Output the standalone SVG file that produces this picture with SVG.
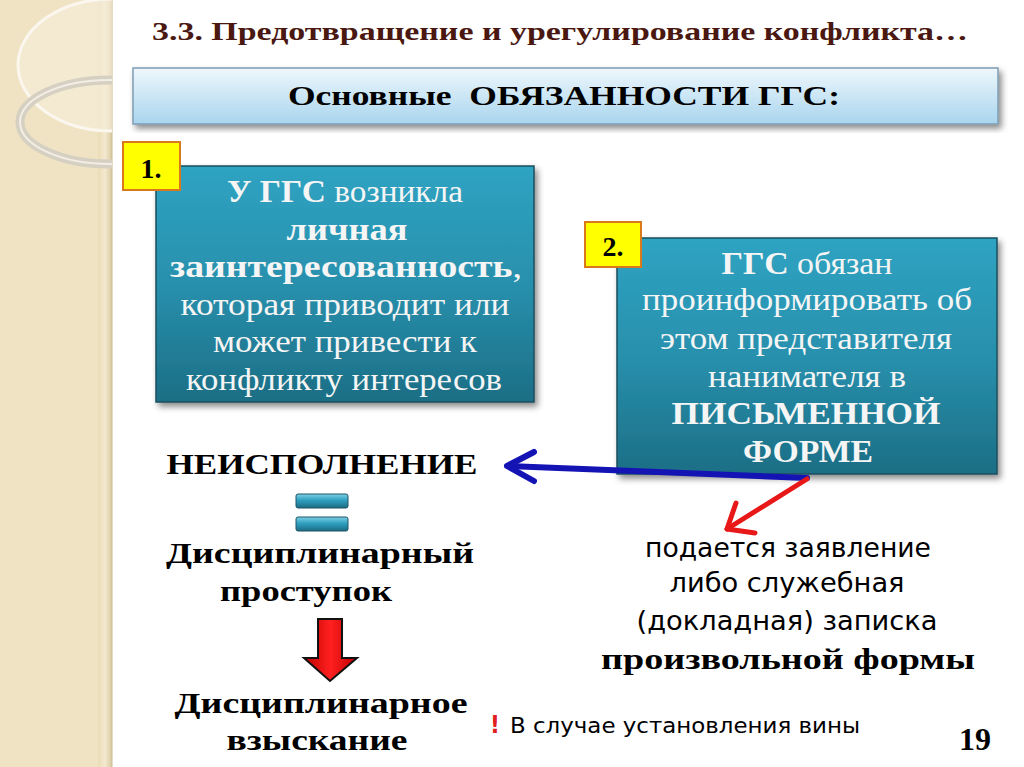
<svg xmlns="http://www.w3.org/2000/svg" width="1024" height="767" viewBox="0 0 1024 767">
<defs>
<linearGradient id="teal" x1="0" y1="0" x2="0" y2="1">
<stop offset="0" stop-color="#2fa3c2"/>
<stop offset="0.5" stop-color="#2890ad"/>
<stop offset="1" stop-color="#1c6e85"/>
</linearGradient>
<linearGradient id="hdr" x1="0" y1="0" x2="0" y2="1">
<stop offset="0" stop-color="#eef7fc"/>
<stop offset="1" stop-color="#a9d5ee"/>
</linearGradient>
<linearGradient id="bar" x1="0" y1="0" x2="0" y2="1">
<stop offset="0" stop-color="#7fd0e6"/>
<stop offset="0.45" stop-color="#2f9fbf"/>
<stop offset="1" stop-color="#1b6b82"/>
</linearGradient>
<linearGradient id="redg" x1="0" y1="0" x2="1" y2="0">
<stop offset="0" stop-color="#c00000"/>
<stop offset="0.5" stop-color="#ff2020"/>
<stop offset="1" stop-color="#c00000"/>
</linearGradient>
<linearGradient id="strip" x1="0" y1="0" x2="1" y2="0">
<stop offset="0" stop-color="#eadcb6"/>
<stop offset="0.5" stop-color="#f3e9cf"/>
<stop offset="1" stop-color="#d9c9a2"/>
</linearGradient>
<filter id="sh" x="-10%" y="-10%" width="125%" height="125%">
<feDropShadow dx="3" dy="4" stdDeviation="3" flood-color="#000" flood-opacity="0.45"/>
</filter>
<clipPath id="lp"><rect x="0" y="0" width="112" height="767"/></clipPath>
</defs>
<style>
text{font-family:"Liberation Serif","DejaVu Serif","Times New Roman",serif}
.b{font-weight:bold}
.w{fill:#f5f5f5}
.k{fill:#000}
text.n{font-family:"Liberation Sans Narrow","DejaVu Sans Condensed","Liberation Sans","DejaVu Sans",sans-serif}
.box{fill:url(#teal);stroke:#1a4f5e;stroke-width:1.5;filter:url(#sh)}
.yel{fill:#ffff00;stroke:#d9791c;stroke-width:2}
</style>
<rect width="1024" height="767" fill="#fff"/>
<g id="leftpanel">
<rect x="0" y="0" width="112" height="767" fill="#efe3c4"/>
<rect x="98" y="0" width="14" height="767" fill="url(#strip)"/>
<line x1="112" y1="0" x2="112" y2="767" stroke="#cbb98e" stroke-width="1"/>
<g clip-path="url(#lp)">
<ellipse cx="112" cy="65" rx="94" ry="66" fill="#f6efdc" fill-opacity="0.6" stroke="#fbf7ee" stroke-width="3"/>
<ellipse cx="110" cy="122" rx="90" ry="42" fill="none" stroke="#d6d0c2" stroke-width="9"/>
<ellipse cx="110" cy="122" rx="90" ry="42" fill="none" stroke="#f2eee6" stroke-width="2"/>
</g>
</g>
<g id="title">
<text x="152" y="40" class="b" font-size="25" fill="#4a1810" textLength="816" lengthAdjust="spacingAndGlyphs">3.3. Предотвращение и урегулирование конфликта…</text>
</g>
<g id="header">
<rect x="133" y="68" width="865" height="56" fill="url(#hdr)" stroke="#7d9db3" stroke-width="1.5" filter="url(#sh)"/>
<text x="288" y="105" class="b k" font-size="27" textLength="552" lengthAdjust="spacingAndGlyphs" xml:space="preserve">Основные  ОБЯЗАННОСТИ ГГС:</text>
</g>
<g id="node1">
<rect x="156" y="166" width="378" height="236" class="box"/>
<text x="345" y="202" class="w" font-size="31" text-anchor="middle" textLength="236" lengthAdjust="spacingAndGlyphs"><tspan class="b">У ГГС</tspan> возникла</text>
<text x="347" y="240" class="w b" font-size="31" text-anchor="middle" textLength="121" lengthAdjust="spacingAndGlyphs">личная</text>
<text x="346" y="277" class="w" font-size="31" text-anchor="middle" textLength="352" lengthAdjust="spacingAndGlyphs"><tspan class="b">заинтересованность</tspan>,</text>
<text x="345" y="315" class="w" font-size="31" text-anchor="middle" textLength="329" lengthAdjust="spacingAndGlyphs">которая приводит или</text>
<text x="345" y="352" class="w" font-size="31" text-anchor="middle" textLength="264" lengthAdjust="spacingAndGlyphs">может привести к</text>
<text x="344" y="390" class="w" font-size="31" text-anchor="middle" textLength="316" lengthAdjust="spacingAndGlyphs">конфликту интересов</text>
</g>
<g id="badge1">
<rect x="123" y="142" width="57" height="48" class="yel"/>
<text x="151" y="178" class="b k" font-size="28" text-anchor="middle">1.</text>
</g>
<g id="node2">
<rect x="617" y="238" width="380" height="236" class="box"/>
<text x="807" y="274" class="w" font-size="31" text-anchor="middle" textLength="171" lengthAdjust="spacingAndGlyphs"><tspan class="b">ГГС</tspan> обязан</text>
<text x="807" y="310" class="w" font-size="31" text-anchor="middle" textLength="330" lengthAdjust="spacingAndGlyphs">проинформировать об</text>
<text x="806" y="349" class="w" font-size="31" text-anchor="middle" textLength="292" lengthAdjust="spacingAndGlyphs">этом представителя</text>
<text x="807" y="387" class="w" font-size="31" text-anchor="middle" textLength="198" lengthAdjust="spacingAndGlyphs">нанимателя в</text>
<text x="806" y="424" class="w b" font-size="31" text-anchor="middle" textLength="269" lengthAdjust="spacingAndGlyphs">ПИСЬМЕННОЙ</text>
<text x="808" y="462" class="w b" font-size="31" text-anchor="middle" textLength="130" lengthAdjust="spacingAndGlyphs">ФОРМЕ</text>
</g>
<g id="badge2">
<rect x="585" y="222" width="56" height="45" class="yel"/>
<text x="613" y="256" class="b k" font-size="28" text-anchor="middle">2.</text>
</g>
<g id="neispolnenie">
<text x="322" y="474" class="b k" font-size="30" text-anchor="middle" textLength="311" lengthAdjust="spacingAndGlyphs">НЕИСПОЛНЕНИЕ</text>
</g>
<g id="equals">
<rect x="296" y="494" width="52" height="14" rx="2" fill="url(#bar)" stroke="#1f5566" stroke-width="1"/>
<rect x="296" y="517" width="52" height="14" rx="2" fill="url(#bar)" stroke="#1f5566" stroke-width="1"/>
</g>
<g id="prostupok">
<text x="320" y="563" class="b k" font-size="30" text-anchor="middle" textLength="308" lengthAdjust="spacingAndGlyphs">Дисциплинарный</text>
<text x="306" y="601" class="b k" font-size="30" text-anchor="middle" textLength="172" lengthAdjust="spacingAndGlyphs">проступок</text>
</g>
<g id="vzyskanie">
<text x="321" y="713" class="b k" font-size="30" text-anchor="middle" textLength="293" lengthAdjust="spacingAndGlyphs">Дисциплинарное</text>
<text x="317" y="750" class="b k" font-size="30" text-anchor="middle" textLength="181" lengthAdjust="spacingAndGlyphs">взыскание</text>
</g>
<g id="zayavlenie">
<text x="788" y="557" class="n k" font-size="27" text-anchor="middle" textLength="286" lengthAdjust="spacingAndGlyphs">подается заявление</text>
<text x="787" y="592" class="n k" font-size="27" text-anchor="middle" textLength="235" lengthAdjust="spacingAndGlyphs">либо служебная</text>
<text x="787" y="630" class="n k" font-size="27" text-anchor="middle" textLength="301" lengthAdjust="spacingAndGlyphs">(докладная) записка</text>
<text x="788" y="669" class="b k" font-size="30" text-anchor="middle" textLength="374" lengthAdjust="spacingAndGlyphs">произвольной формы</text>
</g>
<g id="note">
<text x="490" y="733" class="n b" font-size="24" fill="#e02020">!</text>
<text x="510" y="733" class="n k" font-size="22" textLength="350" lengthAdjust="spacingAndGlyphs">В случае установления вины</text>
</g>
<g id="pagenum">
<text x="975" y="750" class="b k" font-size="32" text-anchor="middle">19</text>
</g>
<g id="connectors" fill="none" stroke-linecap="round" stroke-linejoin="round">
<path d="M807,478 L508,466" stroke="#1414b4" stroke-width="6"/>
<path d="M534,452 L507,466 L534,481" stroke="#1414b4" stroke-width="6"/>
<path d="M807,479 L727,529" stroke="#e81818" stroke-width="5"/>
<path d="M755,533 L727,529 L736,503" stroke="#e81818" stroke-width="5"/>
<path d="M318,619 L342,619 L342,658 L357,658 L330,681 L304,658 L318,658 Z" fill="url(#redg)" stroke="#111" stroke-width="2" stroke-linejoin="miter"/>
</g>
</svg>
